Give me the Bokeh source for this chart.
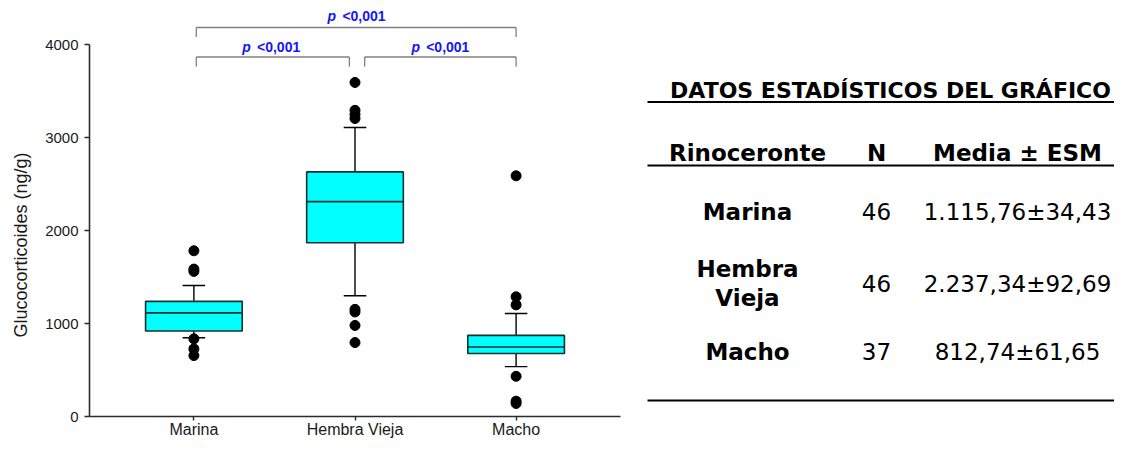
from bokeh.plotting import figure
from bokeh.models import FactorRange, Range1d, FixedTicker, Title
from bokeh.layouts import row
from bokeh.embed import file_html
from bokeh.resources import INLINE
from bokeh.core.properties import value

# ---------------- data ----------------
groups = ["Marina", "Hembra Vieja", "Macho"]
q1 = [920, 1869, 678]
median = [1114, 2311, 747]
q3 = [1238, 2630, 872]
whisk_low = [847, 1298, 536]
whisk_high = [1408, 3107, 1107]
out_marina = [1782, 1585, 1560, 835, 727, 655]
out_hembra = [3592, 3292, 3248, 3204, 1152, 1124, 979, 795]
out_macho = [2588, 1287, 1200, 432, 165, 140]

y_ticks = [0, 1000, 2000, 3000, 4000]
y_title = "Glucocorticoides (ng/g)"
p_label = "<0,001"

tbl_title = "DATOS ESTADÍSTICOS DEL GRÁFICO"
tbl_headers = ["Rinoceronte", "N", "Media ± ESM"]
tbl_groups = ["Marina", "Hembra\nVieja", "Macho"]
tbl_n = [46, 46, 37]
tbl_mean = ["1.115,76", "2.237,34", "812,74"]
tbl_sem = ["34,43", "92,69", "61,65"]

# ---------------- layout constants ----------------
H = 440
LEFT = 88
FRAME_BOTTOM = 416          # pixel row of the x axis (frame bottom)
PX_PER_UNIT = (FRAME_BOTTOM - 44) / 4000.0
YMAX = FRAME_BOTTOM / PX_PER_UNIT


def yval(px):
    """data value for a pixel row (annotation placement)"""
    return (FRAME_BOTTOM - px) / PX_PER_UNIT


# ---------------- box plot ----------------
ARIAL = "Liberation Sans"
p = figure(width=632, height=H,
           x_range=FactorRange(factors=groups, range_padding=0.148, range_padding_units="absolute"),
           y_range=Range1d(0, YMAX),
           output_backend="svg", toolbar_location=None,
           min_border_left=LEFT, min_border_right=12, min_border_top=0,
           min_border_bottom=H - FRAME_BOTTOM)
p.outline_line_color = None
p.grid.visible = False
p.background_fill_color = "white"

bw = 0.3
cap = 0.07
# whiskers
p.segment(x0=groups, x1=groups, y0=q3, y1=whisk_high, line_color="black", line_width=1.4)
p.segment(x0=groups, x1=groups, y0=q1, y1=whisk_low, line_color="black", line_width=1.4)
p.segment(x0=[(g, -cap) for g in groups], x1=[(g, cap) for g in groups], y0=whisk_high, y1=whisk_high,
          line_color="black", line_width=1.4)
p.segment(x0=[(g, -cap) for g in groups], x1=[(g, cap) for g in groups], y0=whisk_low, y1=whisk_low,
          line_color="black", line_width=1.4)
# boxes
p.vbar(x=groups, width=2 * bw, bottom=q1, top=q3, fill_color="#00FFFF", line_color="#1a3030", line_width=1.6)
p.segment(x0=[(g, -bw) for g in groups], x1=[(g, bw) for g in groups], y0=median, y1=median,
          line_color="#1a3030", line_width=1.6)
# outliers
ox, oy = [], []
for g, vals in zip(groups, [out_marina, out_hembra, out_macho]):
    ox += [g] * len(vals)
    oy += vals
p.scatter(x=ox, y=oy, size=10, fill_color="black", line_color="black")

# significance brackets
top_y, top_tip = yval(27), yval(36.5)
low_y, low_tip = yval(56.5), yval(66)
brackets = [
    (("Marina", 0.015), ("Macho", 0.0), top_y, top_tip, ("Hembra Vieja", 0.01), yval(15)),
    (("Marina", 0.015), ("Hembra Vieja", -0.035), low_y, low_tip, ("Marina", 0.48), yval(46)),
    (("Hembra Vieja", 0.06), ("Macho", 0.0), low_y, low_tip, ("Hembra Vieja", 0.53), yval(46)),
]
for a, b, yy, tip, lx, ly in brackets:
    p.segment(x0=[a, a, b], x1=[b, a, b], y0=[yy, yy, yy], y1=[yy, tip, tip],
              line_color="#808080", line_width=1.3)
    p.text(x=[lx], y=[ly], text=["p"], text_font=value(ARIAL), text_font_style="bold italic",
           text_font_size="14px", text_color="#1414ff", text_align="left", text_baseline="middle",
           x_offset=-29)
    p.text(x=[lx], y=[ly], text=[p_label], text_font=value(ARIAL), text_font_style="bold",
           text_font_size="14px", text_color="#1414ff", text_align="right", text_baseline="middle",
           x_offset=29)

# axes
p.yaxis.bounds = (0, 4000)
p.yaxis.ticker = FixedTicker(ticks=y_ticks)
p.yaxis.minor_tick_line_color = None
p.yaxis.major_tick_in = 0
p.yaxis.major_tick_out = 5
p.yaxis.major_label_standoff = 6
p.xaxis.major_tick_in = 0
p.xaxis.major_tick_out = 4
p.xaxis.major_label_standoff = 0
for ax in (p.xaxis, p.yaxis):
    ax.axis_line_color = "#2b2b2b"
    ax.axis_line_width = 1.6
    ax.major_tick_line_color = "#2b2b2b"
    ax.major_tick_line_width = 1.4
    ax.major_label_text_font = ARIAL
    ax.major_label_text_color = "#1a1a1a"
p.yaxis.major_label_text_font_size = "15px"
p.xaxis.major_label_text_font_size = "16px"

# y axis title as a left-side title, shifted along the axis like the reference
p.add_layout(Title(text=y_title, align="left", offset=79, vertical_align="top", standoff=20,
                   text_font=ARIAL, text_font_size="18px", text_font_style="normal",
                   text_color="#1a1a1a"), "left")

# ---------------- table ----------------
VER = "DejaVu Sans"
t = figure(width=482, height=H, x_range=Range1d(632, 1114), y_range=Range1d(FRAME_BOTTOM, 0),
           output_backend="svg", toolbar_location=None, x_axis_type=None, y_axis_type=None,
           min_border=0, min_border_bottom=H - FRAME_BOTTOM)
t.outline_line_color = None
t.grid.visible = False

t.segment(x0=[647, 647, 647], x1=[1114, 1114, 1114], y0=[101.5, 165, 400], y1=[101.5, 165, 400],
          line_color="black", line_width=2)
t.text(x=[890], y=[90], text=[tbl_title], text_font=value(VER), text_font_style="bold",
       text_font_size="22px", text_align="center", text_baseline="middle", text_color="black")
col_x = [747, 876, 1017]
t.text(x=col_x, y=[152] * 3, text=tbl_headers, text_font=value(VER), text_font_style="bold",
       text_font_size="23px", text_align="center", text_baseline="middle", text_color="black")
row_y = [211, 283, 351]
lx, ly, lt = [], [], []
for g, yy in zip(tbl_groups, row_y):
    lines = g.split("\n")
    n = len(lines)
    for i, ln in enumerate(lines):
        lx.append(col_x[0])
        ly.append(yy + (i - (n - 1) / 2) * 29)
        lt.append(ln)
t.text(x=lx, y=ly, text=lt, text_font=value(VER), text_font_style="bold",
       text_font_size="23px", text_align="center", text_baseline="middle", text_color="black")
t.text(x=[col_x[1]] * 3, y=row_y, text=[str(n) for n in tbl_n], text_font=value(VER),
       text_font_size="23px", text_align="center", text_baseline="middle", text_color="black")
t.text(x=[col_x[2]] * 3, y=row_y, text=[f"{m}±{s}" for m, s in zip(tbl_mean, tbl_sem)],
       text_font=value(VER), text_font_size="23px", text_align="center", text_baseline="middle",
       text_color="black")

layout = row(p, t)
open("out.html", "w").write(file_html(layout, INLINE))
